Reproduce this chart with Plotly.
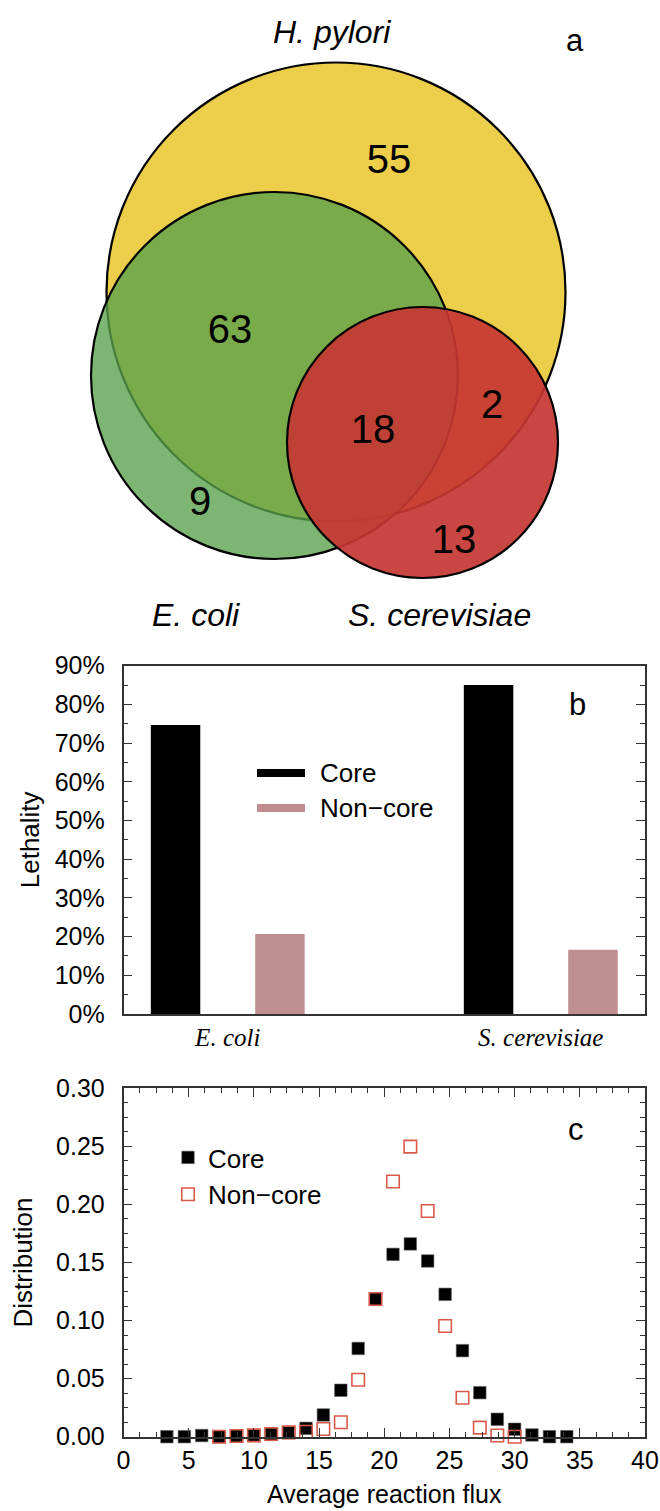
import numpy as np
import plotly.graph_objects as go

W, H = 660, 1511

# ---------------- Panel a : Venn diagram ----------------
venn_sets = ["H. pylori", "E. coli", "S. cerevisiae"]
venn_cx = [336.0, 274.5, 422.5]
venn_cy = [292.0, 375.5, 442.5]
venn_r = [229.5, 183.5, 135.5]
venn_colors = ["rgba(236,206,74,1.0)", "rgba(88,162,74,0.78)", "rgba(198,54,50,0.92)"]
venn_label_x = [332, 196, 439]
venn_label_y = [32, 615, 615]
region_counts = [55, 63, 2, 9, 18, 13]
region_x = [389, 230, 492, 200, 373, 454]
region_y = [163, 333, 408, 505, 433, 543]

# ---------------- Panel b : Lethality bars ----------------
species = ["E. coli", "S. cerevisiae"]
lethality_core = [0.747, 0.850]
lethality_noncore = [0.207, 0.166]
group_names = ["Core", "Non\u2212core"]
group_colors = ["#000000", "#BF8F8F"]
BAR_BASE = -0.01

# ---------------- Panel c : Flux distribution ----------------
flux_core = [3.33, 4.67, 6.00, 7.33, 8.67, 10.00, 11.33, 12.67, 14.00, 15.33, 16.67, 18.00,
             19.33, 20.67, 22.00, 23.33, 24.67, 26.00, 27.33, 28.67, 30.00, 31.33, 32.67, 34.00]
dist_core = [0.0, 0.0, 0.001, 0.0, 0.0005, 0.001, 0.002, 0.0035, 0.0072, 0.0187, 0.040, 0.076,
             0.1186, 0.157, 0.166, 0.1513, 0.1226, 0.0741, 0.0379, 0.015, 0.0064, 0.0015, 0.0, 0.0]
flux_noncore = [7.33, 8.67, 10.00, 11.33, 12.67, 14.00, 15.33, 16.67, 18.00, 19.33, 20.67, 22.00,
                23.33, 24.67, 26.00, 27.33, 28.67, 30.00]
dist_noncore = [0.0, 0.0006, 0.0011, 0.0023, 0.0037, 0.0043, 0.0066, 0.0124, 0.049, 0.1186, 0.2197, 0.2498,
                0.1944, 0.0953, 0.0336, 0.0078, 0.001, 0.0]

SANS = "Liberation Sans, Arial, sans-serif"
SERIF = "Liberation Serif, Times New Roman, serif"
AX = "#333333"


def px_x(p):
    return p / W


def px_y(p):
    return 1 - p / H


fig = go.Figure()

# ---- Panel b bars ----
for name, vals, col in zip(group_names, [lethality_core, lethality_noncore], group_colors):
    fig.add_trace(go.Bar(
        x=species, y=[v - BAR_BASE for v in vals], base=BAR_BASE, name=name,
        marker=dict(color=col, line=dict(width=0)), xaxis="x", yaxis="y",
        showlegend=False, cliponaxis=False))

# ---- Panel c scatter ----
fig.add_trace(go.Scatter(
    x=flux_core, y=dist_core, mode="markers", name="Core", xaxis="x2", yaxis="y2",
    marker=dict(symbol="square", size=12.5, color="black", line=dict(color="#666666", width=0.6)),
    cliponaxis=False, legend="legend"))
fig.add_trace(go.Scatter(
    x=flux_noncore, y=dist_noncore, mode="markers", name="Non\u2212core", xaxis="x2", yaxis="y2",
    marker=dict(symbol="square-open", size=12.5, color="#DA5A4A", line=dict(width=1.6)),
    cliponaxis=False, legend="legend"))

# ---- Panel a counts ----
fig.add_trace(go.Scatter(
    x=region_x, y=region_y, mode="text", text=[str(c) for c in region_counts],
    textposition="middle center", textfont=dict(family=SANS, size=40, color="black"),
    xaxis="x3", yaxis="y3", showlegend=False, hoverinfo="skip"))

shapes = []
for cx, cy, r, col in zip(venn_cx, venn_cy, venn_r, venn_colors):
    shapes.append(dict(type="circle", xref="x3", yref="y3", x0=cx - r, x1=cx + r, y0=cy - r, y1=cy + r,
                       fillcolor=col, line=dict(color="black", width=2.2), layer="below"))

# Panel b legend (thick lines)
leg_b_y = [773, 808]
for yy, col in zip(leg_b_y, group_colors):
    shapes.append(dict(type="line", xref="paper", yref="paper", x0=px_x(257), x1=px_x(305),
                       y0=px_y(yy), y1=px_y(yy), line=dict(color=col, width=8)))

annotations = []
for lab, lx, ly in zip(venn_sets, venn_label_x, venn_label_y):
    annotations.append(dict(x=lx, y=ly, xref="x3", yref="y3", text="<i>%s</i>" % lab, showarrow=False,
                            font=dict(family=SANS, size=32, color="black"), xanchor="center", yanchor="middle"))
for lab, yy in zip(group_names, leg_b_y):
    annotations.append(dict(x=px_x(318), y=px_y(yy), xref="paper", yref="paper", text=lab, showarrow=False,
                            font=dict(family=SANS, size=26, color="black"), xanchor="left", yanchor="middle"))
for letter, lx, ly in [("a", 575, 41), ("b", 577, 704), ("c", 576, 1129)]:
    annotations.append(dict(x=px_x(lx), y=px_y(ly), xref="paper", yref="paper", text=letter, showarrow=False,
                            font=dict(family=SANS, size=31, color="black"), xanchor="center", yanchor="middle"))

x_dom = [px_x(123.5), px_x(645)]
common_axis = dict(showline=True, linecolor=AX, linewidth=1.5, showgrid=False, zeroline=False,
                   automargin=False)

fig.update_layout(
    width=W, height=H, margin=dict(l=0, r=0, t=0, b=0),
    paper_bgcolor="white", plot_bgcolor="white",
    font=dict(family=SANS, color="black"),
    barmode="group", bargap=0.333, bargroupgap=0.526,
    shapes=shapes, annotations=annotations,
    xaxis=dict(domain=x_dom, anchor="y", type="category", range=[-0.333, 1.333], mirror=True,
               ticks="", tickmode="array", tickvals=species,
               ticktext=["<i>%s</i>" % s for s in species],
               tickfont=dict(family=SERIF, size=25, color="black"), ticklabelstandoff=0, **common_axis),
    yaxis=dict(domain=[px_y(1014), px_y(665.7)], anchor="x", range=[0, 0.9], dtick=0.1, tickformat=".0%",
               ticks="inside", ticklen=9, tickwidth=1.3, tickcolor=AX, mirror="allticks",
               minor=dict(dtick=0.05, ticks="inside", ticklen=5, tickwidth=1.2, tickcolor=AX),
               tickfont=dict(size=25, color="black"), ticklabelstandoff=12,
               title=dict(text="Lethality", font=dict(size=26), standoff=8), **common_axis),
    xaxis2=dict(domain=x_dom, anchor="y2", range=[0, 40], dtick=5, ticks="inside", ticklen=9, tickwidth=1.3,
                tickcolor=AX, mirror="allticks",
                minor=dict(dtick=1.25, ticks="inside", ticklen=5, tickwidth=1.2, tickcolor=AX),
                tickfont=dict(size=25, color="black"), ticklabelstandoff=1,
                title=dict(text="Average reaction flux", font=dict(size=25), standoff=12), **common_axis),
    yaxis2=dict(domain=[px_y(1436.7), px_y(1088.3)], anchor="x2", range=[0, 0.30], dtick=0.05,
                tickformat=".2f", ticks="inside", ticklen=9, tickwidth=1.3, tickcolor=AX, mirror="allticks",
                minor=dict(dtick=0.0125, ticks="inside", ticklen=5, tickwidth=1.2, tickcolor=AX),
                tickfont=dict(size=25, color="black"), ticklabelstandoff=12,
                title=dict(text="Distribution", font=dict(size=26), standoff=16), **common_axis),
    xaxis3=dict(domain=[0, 1], anchor="y3", range=[0, W], visible=False),
    yaxis3=dict(domain=[px_y(640), 1], anchor="x3", range=[640, 0], visible=False),
    legend=dict(x=px_x(168), y=px_y(1134), xanchor="left", yanchor="top", bgcolor="rgba(0,0,0,0)",
                font=dict(size=26, color="black"), tracegroupgap=0, itemwidth=30),
    showlegend=True,
)

fig.write_html("out.html", config={"displayModeBar": False},
               post_script="document.body.style.margin='0px';document.body.style.padding='0px';")
